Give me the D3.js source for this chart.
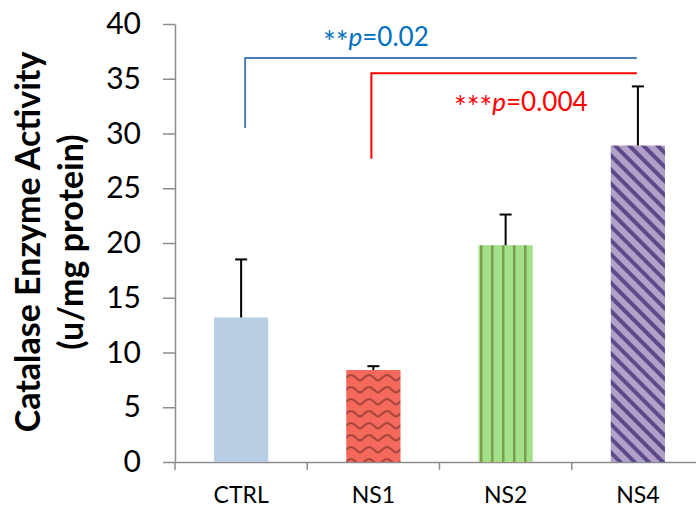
<!DOCTYPE html>
<html lang="en">
<head>
<meta charset="utf-8">
<title>Catalase Enzyme Activity</title>
<script src="https://cdn.jsdelivr.net/npm/d3@7"></script>
<style>
  body { margin: 0; background: #fff; }
  text { font-family: Lato, "Open Sans", sans-serif; }
</style>
</head>
<body>
<div id="chart"></div>
<script>
// data
var groups = ["CTRL", "NS1", "NS2", "NS4"];
var means = [13.2, 8.4, 19.8, 28.9];
var errors = [5.3, 0.35, 2.8, 5.4];
var yTicks = [0, 5, 10, 15, 20, 25, 30, 35, 40];

// significance brackets: from group, to group, leg bottom, bar height
var sigFrom = ["CTRL", "NS1"];
var sigTo = ["NS4", "NS4"];
var sigLow = [30.5, 27.7];
var sigHigh = [36.9, 35.5];
var sigStars = ["**", "***"];
var sigP = ["0.02", "0.004"];
var sigTextAt = [38.0, 32.1];
var sigColors = ["#4a7ebb", "#ff0000"];
var sigTextColors = ["#0070c0", "#ff0000"];

var w = 696, h = 510;
var svg = d3.select("#chart").append("svg")
  .attr("width", w).attr("height", h);

var xScale = d3.scaleBand().domain(groups).range([175, 704]).paddingInner(0.59).paddingOuter(0.295);
var bandStep = xScale.step();
var xCenter = function(g) { return xScale(g) + xScale.bandwidth() / 2; };
var yScale = d3.scaleLinear().domain([0, 40]).range([462, 24]);

// patterns
var defs = svg.append("defs");

var wave = defs.append("pattern").attr("id", "wave")
  .attr("patternUnits", "userSpaceOnUse").attr("width", 18).attr("height", 12);
wave.append("rect").attr("width", 18).attr("height", 12).attr("fill", "#f4695b");
wave.append("path").attr("d", "M0,8.5 C3,8.5 5,3 9,3 C13,3 15,8.5 18,8.5")
  .attr("fill", "none").attr("stroke", "#a9463d").attr("stroke-width", 2.2);

var vlines = defs.append("pattern").attr("id", "vlines")
  .attr("patternUnits", "userSpaceOnUse").attr("width", 11).attr("height", 10);
vlines.append("rect").attr("width", 11).attr("height", 10).attr("fill", "#a3e08a");
vlines.append("rect").attr("x", 7).attr("width", 2.5).attr("height", 10).attr("fill", "#7c9e49");

var diag = defs.append("pattern").attr("id", "diag")
  .attr("patternUnits", "userSpaceOnUse").attr("width", 10).attr("height", 10)
  .attr("patternTransform", "rotate(-45)");
diag.append("rect").attr("width", 10).attr("height", 10).attr("fill", "#b1a0c8");
diag.append("rect").attr("x", 0).attr("width", 4).attr("height", 10).attr("fill", "#5d4a8a");

var fills = ["#b9cde5", "url(#wave)", "url(#vlines)", "url(#diag)"];

// y axis
var yAxis = d3.axisLeft(yScale).tickValues(yTicks).tickSize(12).tickPadding(22).tickSizeOuter(0);
var gy = svg.append("g").attr("transform", "translate(175,0)").call(yAxis);
gy.select(".domain").attr("stroke", "#8c8c8c").attr("stroke-width", 1.5);
gy.selectAll(".tick line").attr("stroke", "#8c8c8c").attr("stroke-width", 1.5);
gy.selectAll(".tick text").attr("font-size", "30px").attr("fill", "#000")
  .style("font-family", "Lato, sans-serif");

// x axis
var xAxis = d3.axisBottom(xScale).tickSize(0).tickPadding(25).tickSizeOuter(0);
var gx = svg.append("g").attr("transform", "translate(0,462)").call(xAxis);
gx.select(".domain").attr("stroke", "#8c8c8c").attr("stroke-width", 1.5);
gx.selectAll(".tick text").attr("font-size", "23px").attr("fill", "#000")
  .attr("dy", "0.71em");
// boundary ticks between categories
gx.selectAll(".bound")
  .data(d3.range(groups.length + 1))
  .enter().append("line")
  .attr("class", "bound")
  .attr("x1", function(i) { return 175 + i * bandStep; })
  .attr("x2", function(i) { return 175 + i * bandStep; })
  .attr("y1", 0).attr("y2", 8)
  .attr("stroke", "#8c8c8c").attr("stroke-width", 1.5);

// bars
svg.selectAll("rect.bar")
  .data(groups)
  .enter().append("rect")
  .attr("class", "bar")
  .attr("x", function(d) { return xScale(d); })
  .attr("width", xScale.bandwidth())
  .attr("y", function(d, i) { return yScale(means[i]); })
  .attr("height", function(d, i) { return yScale(0) - yScale(means[i]); })
  .attr("fill", function(d, i) { return fills[i]; });

// error bars (upper only)
var eb = svg.selectAll("g.err").data(groups).enter().append("g").attr("class", "err");
eb.append("line")
  .attr("x1", xCenter).attr("x2", xCenter)
  .attr("y1", function(d, i) { return yScale(means[i]); })
  .attr("y2", function(d, i) { return yScale(means[i] + errors[i]); })
  .attr("stroke", "#000").attr("stroke-width", 2);
eb.append("line")
  .attr("x1", function(d) { return xCenter(d) - 6; })
  .attr("x2", function(d) { return xCenter(d) + 6; })
  .attr("y1", function(d, i) { return yScale(means[i] + errors[i]); })
  .attr("y2", function(d, i) { return yScale(means[i] + errors[i]); })
  .attr("stroke", "#000").attr("stroke-width", 2);

// significance brackets
sigFrom.forEach(function(f, i) {
  var x1 = xCenter(f) + (i === 0 ? 4 : -2);
  var x2 = xCenter(sigTo[i]) - 1;
  svg.append("path")
    .attr("d", "M" + x1 + "," + yScale(sigLow[i]) + "V" + yScale(sigHigh[i]) + "H" + x2)
    .attr("fill", "none").attr("stroke", sigColors[i]).attr("stroke-width", 2);
});

var sigX = [323, 454];
var t = svg.selectAll("text.sig").data(sigStars).enter().append("text")
  .attr("class", "sig")
  .attr("x", function(d, i) { return sigX[i]; })
  .attr("y", function(d, i) { return yScale(sigTextAt[i]); })
  .attr("font-size", "26px")
  .attr("fill", function(d, i) { return sigTextColors[i]; });
t.append("tspan").attr("font-size", "30px").attr("dy", 7).text(function(d) { return d; });
t.append("tspan").attr("font-style", "italic").attr("dy", -7).text("p");
t.append("tspan").text(function(d, i) { return "=" + sigP[i]; });

// y axis title
var title = svg.append("text")
  .attr("transform", "translate(40,242) rotate(-90)")
  .attr("text-anchor", "middle")
  .attr("font-size", "34px")
  .attr("font-weight", "bold")
  .attr("fill", "#000");
title.append("tspan").attr("x", 0).attr("dy", 0).text("Catalase Enzyme Activity");
title.append("tspan").attr("x", 0).attr("dy", 43).text("(u/mg protein)");
</script>
</body>
</html>
